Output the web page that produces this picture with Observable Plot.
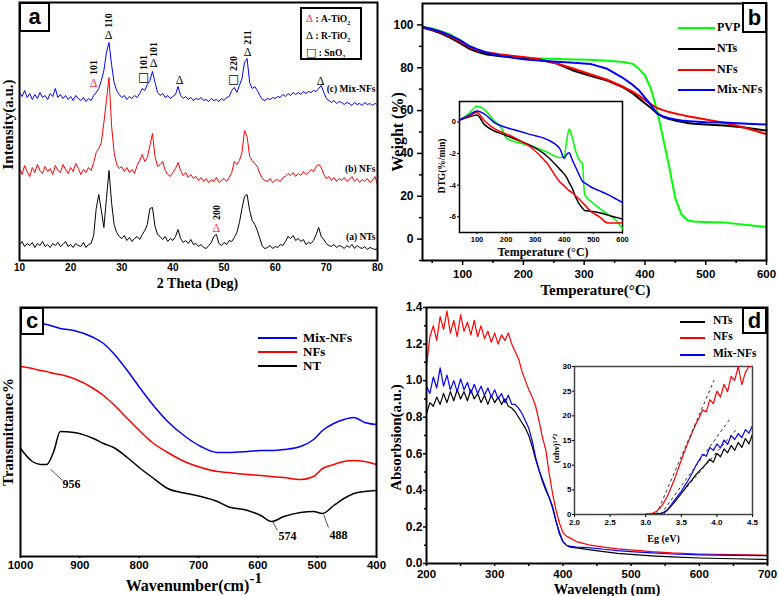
<!DOCTYPE html>
<html><head><meta charset="utf-8">
<script src="https://cdn.jsdelivr.net/npm/d3@7"></script>
<script src="https://cdn.jsdelivr.net/npm/@observablehq/plot@0.6"></script>
<style>
body{margin:0;background:#fff}
#fig{position:relative;width:778px;height:596px;background:#fff;overflow:hidden}
#fig svg.p{position:absolute}
.box{position:absolute;border:2px solid #000;box-sizing:border-box;display:flex;align-items:center;justify-content:center;font:bold 22px 'Liberation Sans',Arial,sans-serif;background:#fff;line-height:1}
.lg{position:absolute;font-family:'Liberation Serif','Times New Roman',serif;font-weight:bold;white-space:nowrap;line-height:1}
.sw{position:absolute;height:0;border-top:2px solid #000}
</style></head><body><div id="fig"></div>
<script>
// ---------- (a) XRD ----------
const xrdTheta = [10,10.5,11,11.5,12,12.5,13,13.5,14,14.5,15,15.5,16,16.5,17,17.5,18,18.5,19,19.5,20,20.5,21,21.5,22,22.5,23,23.5,24,24.5,25,25.5,26,26.5,27,27.5,28,28.5,29,29.5,30,30.5,31,31.5,32,32.5,33,33.5,34,34.5,35,35.5,36,36.5,37,37.5,38,38.5,39,39.5,40,40.5,41,41.5,42,42.5,43,43.5,44,44.5,45,45.5,46,46.5,47,47.5,48,48.5,49,49.5,50,50.5,51,51.5,52,52.5,53,53.5,54,54.5,55,55.5,56,56.5,57,57.5,58,58.5,59,59.5,60,60.5,61,61.5,62,62.5,63,63.5,64,64.5,65,65.5,66,66.5,67,67.5,68,68.5,69,69.5,70,70.5,71,71.5,72,72.5,73,73.5,74,74.5,75,75.5,76,76.5,77,77.5,78,78.5,79,79.5,80];
const xrdNTs = [16,19,14,17,15,18,13,17,15,19, 14,16,13,17,15,18,14,16,19,14, 16,13,17,15,14,18,13,16,17,25, 52,66,50,33,62,90,58,36,28,24, 22,25,20,23,19,22,24,21,26,30, 36,52,53,34,26,24,21,24,19,22, 20,24,31,22,18,20,17,21,16,17, 14,16,13,12,15,18,24,26,17,15, 18,16,20,19,23,28,38,52,64,66, 50,40,36,30,22,14,12,13,15,12, 14,13,16,15,19,24,22,25,20,22, 19,21,16,18,17,20,26,33,24,21, 17,15,14,16,13,15,14,12,15,13, 16,12,15,13,12,14,11,13,12,11, 12];
const xrdNFs = [92,86,95,89,84,93,88,96,90,87, 94,89,92,86,95,90,88,96,91,87, 93,89,97,92,86,91,88,93,90,98, 108,112,118,138,160,183,135,108,96,92, 94,89,93,88,91,87,95,100,106,99, 103,115,127,104,94,96,99,90,86,84, 88,92,98,90,85,88,83,86,82,84, 80,83,79,82,78,81,79,83,78,80, 82,79,83,88,99,96,100,108,130,124, 104,100,97,94,87,82,80,79,82,78, 80,81,79,83,84,87,85,88,84,87, 85,89,86,88,91,89,94,96,93,86, 82,84,80,83,79,82,80,83,79,81, 84,79,82,78,81,79,82,78,80,84, 76];
const xrdMix = [168,164,170,163,167,161,166,162,168,163, 165,161,167,164,172,163,166,162,165,161, 164,160,165,162,160,163,159,162,160,165, 168,172,180,190,208,218,196,178,170,166, 163,165,161,164,162,165,163,167,172,170, 176,180,189,178,168,165,167,163,165,162, 164,166,174,165,162,164,161,163,160,162, 161,163,160,161,159,162,160,161,159,162, 160,163,164,170,173,168,175,182,198,202, 178,172,174,170,165,161,160,162,161,163, 162,164,163,166,164,167,165,168,166,168, 166,169,167,169,168,170,169,172,175,168, 162,160,158,160,157,159,158,156,158,157, 155,158,156,157,155,158,156,157,155,157, 156];
const xrdTicks = [10,20,30,40,50,60,70,80];
const rutileX = [27.4,36.2,41.3,54.6,68.9], rutileY = [225,197,180,208,179];
const anataseX = [24.5,48.5], anataseY = [177,32];
const sno2X = [34.3,51.9], sno2Y = [183,181];
const hklX = [24.5,27.4,34.3,36.2,51.9,54.6,48.5], hklY = [193,240,198,211,197,223,48];
const hklText = ["101","110","101","101","220","211","200"];
const sampleText = ["(c) Mix-NFs","(b) NFs","(a) NTs"], sampleY = [172,92,24];

// ---------- (b) TGA ----------
const tgaT = [35,50,65,80,95,110,125,140,160,180,200,230,255,283,310,338,365,380,390,400,410,420,430,440,450,460,470,480,500,530,560,600];
const tgaPVP = [99,98.3,97,95.5,93,90.3,88.2,86.8,85.5,85,84.7,84.3,84.1,83.9,83.7,83.3,82.7,81.8,79.5,76.5,70,60,47,33.5,19,11.5,8.8,8.2,8.0,7.8,6.8,5.6];
const tgaNTs = [98.7,97.5,96,94,91.6,89,87.3,86.2,85.5,85,84.6,83.5,82,78.6,76.3,74,70.7,68,65.7,63.4,61.2,58.8,57,56,55.3,54.8,54.2,53.9,53.5,53,52.2,50.7];
const tgaNFs = [98.8,97.8,96.5,94.6,92.3,89.8,88,87.2,86.3,85.6,85,83.8,82,79.5,77,74.4,71,68.8,67,65,62.9,61.2,60.2,59.3,58.6,58,57.4,56.9,55.8,54.3,52.3,49];
const tgaMix = [99,98,96.8,95,93,90.2,88.5,87,85.7,84.8,84,83.3,82.8,82.3,81.8,79.5,75,72,69.5,66,62.6,58.6,57.2,56.4,55.9,55.4,55.1,54.9,54.6,54.4,54,53.5];
const dtgT = [40,70,100,125,160,185,200,240,285,340,385,400,408,417,425,440,455,462,470,490,520,550,570,600];
const dtgPVP = [0.13,0.5,1.0,0.8,0.06,-0.4,-1.0,-1.3,-1.5,-1.9,-2.25,-2.2,-1.2,-0.45,-0.8,-1.9,-2.5,-2.6,-4.6,-5.0,-5.45,-5.85,-6.1,-6.75];
const dtgNTs = [0.13,0.3,0.45,-0.15,-0.57,-0.75,-0.85,-1.15,-1.5,-2.15,-3.0,-3.3,-3.5,-3.85,-4.1,-4.8,-5.3,-5.45,-5.6,-5.65,-5.75,-5.9,-6.0,-6.15];
const dtgNFs = [0.13,0.35,0.6,0.1,-0.42,-0.65,-0.75,-1.1,-1.6,-2.6,-3.8,-4.05,-4.2,-4.35,-4.45,-4.7,-4.95,-5.1,-5.25,-5.65,-6.0,-6.4,-6.4,-6.4];
const dtgMix = [0.13,0.4,0.7,0.52,-0.04,-0.25,-0.35,-0.55,-0.8,-1.1,-1.7,-2.3,-2.05,-1.95,-2.3,-2.9,-3.5,-3.75,-3.85,-4.1,-4.35,-4.6,-4.8,-5.1];

// ---------- (c) FTIR ----------
const wn = [1000,980,966,956,944,933,910,877,860,843,820,798,780,752,720,696,668,651,617,595,577,556,528,506,491,472,455,438,420,400];
const ftMix = [236,234,233,232,230,228,226,219,213,203,186,168,154,135,119,110,104,104,105,106,106,107,110,117,126,133,137,139,134,132];
const ftNFs = [190,188,186,185,183,182,178,168,161,152,138,125,115,104,94,89,85,84,82,81,80,79,77,80,88,92,95,96,95,92];
const ftNT = [108,95,92,92,105,125,124,118,113,109,99,88,80,68,63,60,55,50,46,41,35,40,44,45,43,51,58,63,65,66];
const peakText = ["956","574","488"], peakX = [914,550,464], peakY = [72,20,21];
const leadX1 = [949,575,489], leadY1 = [87,35,42], leadX2 = [929,567,481], leadY2 = [76,26,29];

// ---------- (d) UV-vis ----------
const lam = [200,205,210,215,220,225,230,235,240,245,250,255,260,265,270,275,280,285,290,295,300,305,310,315,320,325,330,335,340,345,350,355,360,365,370,375,380,385,390,395,400,405,410,420,430,440,460,480,500,530,560,600,650,700];
const absNFs = [1.08,1.24,1.30,1.22,1.35,1.28,1.38,1.26,1.33,1.24,1.36,1.27,1.32,1.25,1.33,1.24,1.30,1.23,1.27,1.21,1.26,1.20,1.25,1.22,1.26,1.20,1.16,1.12,1.05,1.00,0.95,0.91,0.86,0.78,0.69,0.62,0.49,0.38,0.29,0.22,0.17,0.15,0.14,0.12,0.11,0.10,0.09,0.08,0.075,0.065,0.058,0.052,0.048,0.045];
const absMix = [0.97,0.93,1.02,0.96,1.07,0.97,1.03,0.95,1.00,0.94,1.01,0.95,0.99,0.93,0.98,0.93,0.97,0.92,0.96,0.91,0.95,0.90,0.93,0.88,0.92,0.87,0.87,0.85,0.82,0.78,0.74,0.67,0.58,0.51,0.46,0.41,0.36,0.30,0.23,0.16,0.12,0.10,0.095,0.09,0.088,0.085,0.078,0.07,0.065,0.058,0.052,0.047,0.044,0.043];
const absNTs = [0.82,0.88,0.86,0.91,0.87,0.93,0.88,0.94,0.89,0.95,0.90,0.94,0.89,0.95,0.90,0.93,0.88,0.92,0.87,0.92,0.88,0.91,0.87,0.90,0.86,0.85,0.83,0.80,0.77,0.74,0.70,0.64,0.57,0.51,0.45,0.40,0.36,0.31,0.23,0.17,0.12,0.10,0.09,0.085,0.08,0.075,0.065,0.055,0.05,0.042,0.036,0.03,0.026,0.022];
const eg = [2.0,2.5,3.0,3.05,3.1,3.15,3.2,3.25,3.3,3.35,3.4,3.45,3.5,3.55,3.6,3.65,3.7,3.75,3.8,3.85,3.9,3.95,4.0,4.05,4.1,4.15,4.2,4.25,4.3,4.35,4.4,4.45,4.5];
const tcNFs = [0,0,0.1,0.2,0.3,0.6,1.3,2.3,3.6,5.2,7.0,9.0,11.0,13.0,14.8,16.5,18.2,19.6,21.2,20.8,23.3,22.5,25.0,23.8,26.4,24.9,28.0,27.2,30.0,26.3,28.8,30.0,30.0];
const tcMix = [0,0,0.05,0.08,0.1,0.15,0.2,0.4,0.9,1.8,2.8,3.8,4.7,5.9,7.0,8.3,9.8,11.0,12.2,11.8,13.6,13.0,14.3,13.5,15.1,14.2,16.0,15.2,16.4,15.6,17.2,16.5,18.0];
const tcNTs = [0,0,0.05,0.08,0.1,0.15,0.2,0.35,0.8,1.6,2.4,3.3,4.3,5.2,6.2,7.0,8.0,8.8,9.5,10.3,11.2,10.6,12.4,11.7,13.3,12.5,14.0,13.0,14.6,13.6,15.4,14.3,16.3];
const tanX1 = [3.15,3.21,3.25], tanY1 = [0,0,0], tanX2 = [3.96,4.19,4.27], tanY2 = [27.2,19.5,17.2];

// ---------- helpers ----------
const SERIF = "'Liberation Serif','Times New Roman',serif";
const SANS = "'Liberation Sans',Arial,sans-serif";
const fig = document.getElementById("fig");
const pts = (xs, ys) => xs.map((x, i) => ({x, y: ys[i]}));
const idx = (xs) => xs.map((_, i) => i);
const plain = d => String(d);
function place(svg, left, top) { svg.classList.add("p"); svg.style.left = left + "px"; svg.style.top = top + "px"; fig.appendChild(svg); }
const title = (t, o) => Plot.text([t], {text: d => d, textAnchor: "middle", lineAnchor: "middle", fontFamily: SERIF, fontWeight: "bold", fontSize: 15, ...o});
const st = {background: "transparent", overflow: "visible"};

// ---------- panel a ----------
place(Plot.plot({
  width: 390, height: 296, marginLeft: 19, marginRight: 13, marginTop: 2, marginBottom: 36,
  x: {domain: [10, 80]}, y: {domain: [0, 258], axis: null}, style: st,
  marks: [
    Plot.line(pts(xrdTheta, xrdNTs), {x: "x", y: "y", stroke: "#000", strokeWidth: 1}),
    Plot.line(pts(xrdTheta, xrdNFs), {x: "x", y: "y", stroke: "#ff0000", strokeWidth: 1}),
    Plot.line(pts(xrdTheta, xrdMix), {x: "x", y: "y", stroke: "#0000ff", strokeWidth: 1}),
    Plot.text(idx(rutileX), {x: i => rutileX[i], y: i => rutileY[i], text: () => "Δ", fill: "#000", fontFamily: SERIF, fontSize: 12}),
    Plot.text(idx(anataseX), {x: i => anataseX[i], y: i => anataseY[i], text: () => "Δ", fill: "#ff2a55", fontFamily: SERIF, fontSize: 12}),
    Plot.text(idx(sno2X), {x: i => sno2X[i], y: i => sno2Y[i], text: () => "□", fill: "#000", fontFamily: "DejaVu Sans", fontSize: 12}),
    Plot.text(idx(hklX), {x: i => hklX[i], y: i => hklY[i], text: i => hklText[i], rotate: -90, textAnchor: "middle", fontFamily: SERIF, fontWeight: "bold", fontSize: 10}),
    Plot.text(idx(sampleY), {x: 79.6, y: i => sampleY[i], text: i => sampleText[i], textAnchor: "end", fontFamily: SERIF, fontWeight: "bold", fontSize: 9.5}),
    Plot.frame({stroke: "#000", strokeWidth: 2}),
    Plot.axisX({ticks: xrdTicks, tickFormat: plain, tickSize: 0, tickPadding: 3, fontSize: 10, fontWeight: "bold", fontFamily: SANS, label: null}),
    title("2 Theta (Deg)", {frameAnchor: "bottom", dy: 23, dx: -1, fontSize: 14}),
    title("Intensity(a.u.)", {frameAnchor: "left", dx: -11, dy: -7, rotate: -90, fontSize: 15})
  ]
}), 0, 0);

// ---------- panel b ----------
place(Plot.plot({
  width: 388, height: 296, marginLeft: 32, marginRight: 12, marginTop: 3, marginBottom: 36,
  x: {domain: [34, 600]}, y: {domain: [-10, 110]}, style: st,
  marks: [
    Plot.line(pts(tgaT, tgaPVP), {x: "x", y: "y", stroke: "#00ff00", strokeWidth: 2}),
    Plot.line(pts(tgaT, tgaNTs), {x: "x", y: "y", stroke: "#000", strokeWidth: 2}),
    Plot.line(pts(tgaT, tgaNFs), {x: "x", y: "y", stroke: "#ff0000", strokeWidth: 2}),
    Plot.line(pts(tgaT, tgaMix), {x: "x", y: "y", stroke: "#0000ff", strokeWidth: 2}),
    Plot.frame({stroke: "#000", strokeWidth: 2}),
    Plot.axisX({ticks: [100,200,300,400,500,600], tickFormat: plain, tickSize: 5, tickPadding: 4, strokeWidth: 1.5, fontSize: 11.5, fontWeight: "bold", fontFamily: SANS, label: null}),
    Plot.axisX({ticks: [50,150,250,350,450,550], tickSize: 3, tickFormat: () => "", strokeWidth: 1.5, label: null}),
    Plot.axisY({ticks: [0,20,40,60,80,100], tickFormat: plain, tickSize: 5, tickPadding: 4, strokeWidth: 1.5, fontSize: 12, fontWeight: "bold", fontFamily: SANS, label: null}),
    Plot.axisY({ticks: [-10,10,30,50,70,90], tickSize: 3, tickFormat: () => "", strokeWidth: 1.5, label: null}),
    title("Temperature(°C)", {frameAnchor: "bottom", dy: 29.5, dx: 1, fontSize: 15}),
    title("Weight (%)", {frameAnchor: "left", dx: -25, rotate: -90, fontSize: 16})
  ]
}), 390, 0);

// inset b
place(Plot.plot({
  width: 200, height: 165, marginLeft: 19, marginRight: 18, marginTop: 6, marginBottom: 28,
  x: {domain: [40, 600]}, y: {domain: [-7, 1.3]}, style: st,
  marks: [
    Plot.frame({fill: "#fff", stroke: "#000", strokeWidth: 1.5}),
    Plot.line(pts(dtgT, dtgPVP), {x: "x", y: "y", stroke: "#00ff00", strokeWidth: 1.5, curve: "monotone-x"}),
    Plot.line(pts(dtgT, dtgNTs), {x: "x", y: "y", stroke: "#000", strokeWidth: 1.5, curve: "monotone-x"}),
    Plot.line(pts(dtgT, dtgNFs), {x: "x", y: "y", stroke: "#ff0000", strokeWidth: 1.5, curve: "monotone-x"}),
    Plot.line(pts(dtgT, dtgMix), {x: "x", y: "y", stroke: "#0000ff", strokeWidth: 1.5, curve: "monotone-x"}),
    Plot.axisX({ticks: [100,200,300,400,500,600], tickFormat: plain, tickSize: 2, tickPadding: 2, fontSize: 7.5, fontWeight: "bold", fontFamily: SANS, label: null}),
    Plot.axisY({ticks: [0,-2,-4,-6], tickFormat: plain, tickSize: 2, tickPadding: 1.5, fontSize: 7.5, fontWeight: "bold", fontFamily: SANS, label: null}),
    title("Temperature (°C)", {frameAnchor: "bottom", dy: 19.5, dx: 2, fontSize: 12}),
    title("DTG(%/min)", {frameAnchor: "left", dx: -18, dy: -1, rotate: -90, fontSize: 9.5})
  ]
}), 440, 95);

// ---------- panel c ----------
place(Plot.plot({
  width: 390, height: 300, marginLeft: 20, marginRight: 14, marginTop: 11, marginBottom: 40,
  x: {domain: [1000, 400]}, y: {domain: [0, 249], axis: null}, style: st,
  marks: [
    Plot.line(pts(wn, ftMix), {x: "x", y: "y", stroke: "#0000ff", strokeWidth: 1.5, curve: "monotone-x"}),
    Plot.line(pts(wn, ftNFs), {x: "x", y: "y", stroke: "#ff0000", strokeWidth: 1.5, curve: "monotone-x"}),
    Plot.line(pts(wn, ftNT), {x: "x", y: "y", stroke: "#000", strokeWidth: 1.5, curve: "monotone-x"}),
    Plot.link(idx(leadX1), {x1: i => leadX1[i], y1: i => leadY1[i], x2: i => leadX2[i], y2: i => leadY2[i], stroke: "#555", strokeWidth: 1}),
    Plot.text(idx(peakX), {x: i => peakX[i], y: i => peakY[i], text: i => peakText[i], fontFamily: SERIF, fontWeight: "bold", fontSize: 12}),
    Plot.frame({stroke: "#000", strokeWidth: 2}),
    Plot.axisX({ticks: [1000,900,800,700,600,500,400], tickFormat: plain, tickSize: 2, tickPadding: 2, strokeWidth: 1.5, fontSize: 11.5, fontWeight: "bold", fontFamily: SANS, label: null}),
    title("Wavenumber(cm)", {frameAnchor: "bottom", dy: 29, dx: -11, fontSize: 16}),
    title("-1", {frameAnchor: "bottom", dy: 22, dx: 51, textAnchor: "start", fontSize: 15}),
    title("Transmittance%", {frameAnchor: "left", dx: -12, rotate: -90, fontSize: 15})
  ]
}), 0, 296);

// ---------- panel d ----------
place(Plot.plot({
  width: 388, height: 300, marginLeft: 36, marginRight: 11, marginTop: 11, marginBottom: 33,
  x: {domain: [200, 700]}, y: {domain: [0, 1.4]}, style: st,
  marks: [
    Plot.line(pts(lam, absNTs), {x: "x", y: "y", stroke: "#000", strokeWidth: 1.2}),
    Plot.line(pts(lam, absNFs), {x: "x", y: "y", stroke: "#ff0000", strokeWidth: 1.2}),
    Plot.line(pts(lam, absMix), {x: "x", y: "y", stroke: "#0000ff", strokeWidth: 1.2}),
    Plot.frame({stroke: "#000", strokeWidth: 2}),
    Plot.axisX({ticks: [200,300,400,500,600,700], tickFormat: plain, tickSize: 3, tickPadding: 3.5, strokeWidth: 1.5, fontSize: 11.5, fontWeight: "bold", fontFamily: SANS, label: null}),
    Plot.axisX({ticks: [250,350,450,550,650], tickSize: 3, tickFormat: () => "", strokeWidth: 1.5, label: null}),
    Plot.axisY({ticks: [0,0.2,0.4,0.6,0.8,1.0,1.2,1.4], tickFormat: d3.format(".1f"), tickSize: 3, tickPadding: 1, strokeWidth: 1.5, fontSize: 12, fontWeight: "bold", fontFamily: SANS, label: null}),
    Plot.axisY({ticks: [0.1,0.3,0.5,0.7,0.9,1.1,1.3], tickSize: 2, tickFormat: () => "", strokeWidth: 1.5, label: null}),
    title("Wavelength (nm)", {frameAnchor: "bottom", dy: 26, dx: 10, fontSize: 14.5}),
    title("Absorbsion(a.u.)", {frameAnchor: "left", dx: -30, dy: 2, rotate: -90, fontSize: 15})
  ]
}), 390, 296);

// inset d
place(Plot.plot({
  width: 222, height: 185, marginLeft: 26, marginRight: 18, marginTop: 6, marginBottom: 31,
  x: {domain: [2.0, 4.5]}, y: {domain: [0, 30]}, style: st,
  marks: [
    Plot.frame({fill: "#fff", stroke: "#444", strokeWidth: 1.5}),
    Plot.line(pts(eg, tcNTs), {x: "x", y: "y", stroke: "#000", strokeWidth: 1.2, clip: true}),
    Plot.line(pts(eg, tcMix), {x: "x", y: "y", stroke: "#0000ff", strokeWidth: 1.2, clip: true}),
    Plot.line(pts(eg, tcNFs), {x: "x", y: "y", stroke: "#ff0000", strokeWidth: 1.2, clip: true}),
    Plot.link(idx(tanX1), {x1: i => tanX1[i], y1: i => tanY1[i], x2: i => tanX2[i], y2: i => tanY2[i], stroke: "#333", strokeWidth: 1, strokeDasharray: "3,3"}),
    Plot.axisX({ticks: [2.0,2.5,3.0,3.5,4.0,4.5], tickFormat: d3.format(".1f"), tickSize: 3, tickPadding: 2, fontSize: 8, fontWeight: "bold", fontFamily: SANS, label: null}),
    Plot.axisY({ticks: [0,5,10,15,20,25,30], tickFormat: plain, tickSize: 2, tickPadding: 1, fontSize: 8, fontWeight: "bold", fontFamily: SANS, label: null}),
    title("Eg (eV)", {frameAnchor: "bottom", dy: 24, fontSize: 10}),
    title("(αhν)¹ᐟ²", {frameAnchor: "left", dx: -18, dy: 8, rotate: -90, fontSize: 9})
  ]
}), 548, 360);

// ---------- HTML overlays: panel letters & legends ----------
function box(letter, l, t, w, h) {
  const d = document.createElement("div"); d.className = "box"; d.textContent = letter;
  Object.assign(d.style, {left: l + "px", top: t + "px", width: w + "px", height: h + "px"}); fig.appendChild(d);
}
box("a", 19, 2, 31, 30); box("b", 742, 2, 25, 31); box("c", 20, 307, 24, 28); box("d", 742, 307, 25, 27);

function legend(names, colors, ys, x1, x2, tx, fs) {
  names.forEach((n, i) => {
    const s = document.createElement("div"); s.className = "sw";
    Object.assign(s.style, {left: x1 + "px", top: (ys[i] - 1) + "px", width: (x2 - x1) + "px", borderTopColor: colors[i]});
    fig.appendChild(s);
    const t = document.createElement("div"); t.className = "lg"; t.textContent = n;
    Object.assign(t.style, {left: tx + "px", top: (ys[i] - fs / 2 - 1) + "px", fontSize: fs + "px"});
    fig.appendChild(t);
  });
}
const legB = ["PVP","NTs","NFs","Mix-NFs"], legBc = ["#00ff00","#000","#ff0000","#0000ff"];
legend(legB, legBc, [28,49,70,90], 678, 715, 717, 12);
const legC = ["Mix-NFs","NFs","NT"], legCc = ["#0000ff","#ff0000","#000"];
legend(legC, legCc, [338,352,366], 258, 297, 303, 13);
const legD = ["NTs","NFs","Mix-NFs"], legDc = ["#000","#ff0000","#0000ff"];
legend(legD, legDc, [322,338,355], 680, 705, 713, 11.5);

// phase legend in (a)
const phaseSym = ["Δ","Δ","□"], phaseCol = ["#ff2a55","#000","#000"], phaseName = ["A-TiO","R-TiO","SnO"];
const pb = document.createElement("div");
Object.assign(pb.style, {position: "absolute", left: "300px", top: "7px", width: "62px", height: "53px", border: "2px solid #000", boxSizing: "border-box", background: "#fff"});
fig.appendChild(pb);
phaseName.forEach((n, i) => {
  const t = document.createElement("div"); t.className = "lg";
  Object.assign(t.style, {left: "306px", top: (13 + i * 17) + "px", fontSize: "9.5px"});
  t.innerHTML = `<span style="color:${phaseCol[i]};font-family:${i === 2 ? "'DejaVu Sans'" : "inherit"};font-weight:normal;font-size:11px">${phaseSym[i]}</span> : ${n}<sub style="font-size:6px">2</sub>`;
  fig.appendChild(t);
});
</script></body></html>
